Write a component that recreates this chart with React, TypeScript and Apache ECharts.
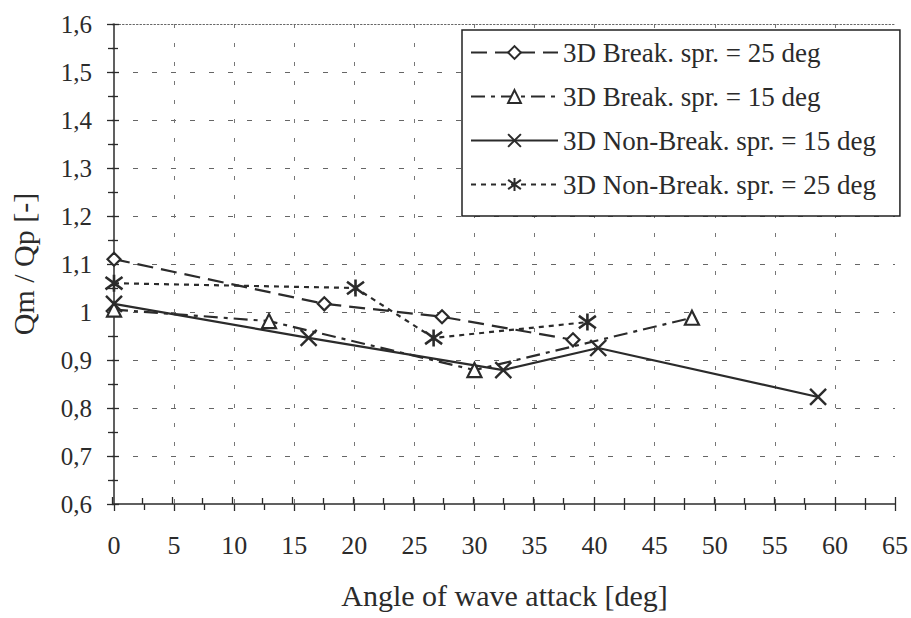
import React, { useEffect, useRef } from "react";
import * as echarts from "echarts";

const angleBreak25 = [0, 17.5, 27.3, 38.2];
const qBreak25 = [1.11, 1.017, 0.99, 0.942];
const angleBreak15 = [0, 12.9, 30.0, 48.1];
const qBreak15 = [1.005, 0.981, 0.879, 0.988];
const angleNonBreak15 = [0, 16.2, 32.4, 40.3, 58.6];
const qNonBreak15 = [1.017, 0.946, 0.879, 0.925, 0.823];
const angleNonBreak25 = [0, 20.1, 26.6, 39.4];
const qNonBreak25 = [1.06, 1.05, 0.946, 0.979];

const seriesNames = [
  "3D Break. spr. = 25 deg",
  "3D Break. spr. = 15 deg",
  "3D Non-Break. spr. = 15 deg",
  "3D Non-Break. spr. = 25 deg",
];

const xTitle = "Angle of wave attack [deg]";
const yTitle = "Qm / Qp [-]";

const FONT = "'Liberation Serif', 'Times New Roman', serif";
const INK = "#2b2b2b";

const pairs = (xs: number[], ys: number[]) => xs.map((x, i) => [x, ys[i]]);

const crossSym = "path://M0,0L10,10M0,10L10,0";
const starSym = "path://M1,1L9,9M1,9L9,1M5,-0.5L5,10.5";

export default function App() {
  const ref = useRef<HTMLDivElement>(null);
  useEffect(() => {
    if (!ref.current) return;
    const chart = echarts.init(ref.current, undefined, { renderer: "svg" });
    const gridRect = { left: 112, right: 16, top: 24, bottom: 114 };
    const fmtY = (v: number) => String(Number(v.toFixed(2))).replace(".", ",");
    const mk = (
      name: string,
      data: number[][],
      symbol: string,
      size: number,
      lineType: any,
      symFill: string,
      bw: number
    ) => ({
      type: "line",
      name,
      data,
      xAxisIndex: 0,
      yAxisIndex: 0,
      symbol,
      symbolSize: size,
      showAllSymbol: true,
      lineStyle: { color: INK, width: 2.2, type: lineType },
      itemStyle: { color: symFill, borderColor: INK, borderWidth: bw },
      emphasis: { disabled: true },
      z: 3,
    });
    chart.setOption({
      animation: false,
      backgroundColor: "#fff",
      textStyle: { fontFamily: FONT },
      grid: [
        { ...gridRect },
        { ...gridRect },
      ],
      legend: {
        orient: "vertical",
        left: 462,
        top: 30,
        padding: [9, 24, 18, 8],
        itemWidth: 87,
        itemHeight: 16,
        itemGap: 17,
        backgroundColor: "#fff",
        borderColor: "#222",
        borderWidth: 1.5,
        textStyle: { fontFamily: FONT, fontSize: 27, color: INK },
        data: seriesNames,
        z: 10,
      },
      xAxis: [
        {
          type: "value",
          gridIndex: 0,
          min: 0,
          max: 65,
          interval: 5,
          name: xTitle,
          nameLocation: "middle",
          nameGap: 76,
          nameTextStyle: { fontFamily: FONT, fontSize: 30, color: INK },
          axisLine: { show: true, lineStyle: { color: INK, width: 1.5 } },
          axisTick: { show: true, length: 7, lineStyle: { color: INK, width: 1.3 } },
          minorTick: { show: true, splitNumber: 2, length: 6, lineStyle: { color: INK, width: 1.3 } },
          axisLabel: { fontFamily: FONT, fontSize: 26, color: INK, margin: 28 },
          splitLine: {
            show: true,
            showMinLine: false,
            showMaxLine: false,
            lineStyle: { color: "#777", width: 1, type: [4, 15] },
          },
        },
        {
          type: "value",
          gridIndex: 1,
          min: 0,
          max: 65,
          interval: 5,
          position: "bottom",
          axisLine: { show: false },
          axisTick: { show: true, inside: true, length: 7, lineStyle: { color: INK, width: 1.3 } },
          minorTick: { show: true, splitNumber: 2, length: 6, lineStyle: { color: INK, width: 1.3 } },
          axisLabel: { show: false },
          splitLine: { show: false },
        },
        {
          type: "value",
          gridIndex: 1,
          min: 0,
          max: 65,
          interval: 5,
          position: "top",
          axisLine: { show: true, lineStyle: { color: "#666", width: 1, type: [1.5, 2] } },
          axisTick: { show: false },
          axisLabel: { show: false },
          splitLine: { show: false },
        },
      ],
      yAxis: [
        {
          type: "value",
          gridIndex: 0,
          min: 0.6,
          max: 1.6,
          interval: 0.1,
          name: yTitle,
          nameLocation: "middle",
          nameGap: 76,
          nameRotate: 90,
          nameTextStyle: { fontFamily: FONT, fontSize: 30, color: INK },
          axisLine: { show: true, lineStyle: { color: INK, width: 1.5 } },
          axisTick: { show: true, length: 7, lineStyle: { color: INK, width: 1.3 } },
          minorTick: { show: true, splitNumber: 2, length: 6, lineStyle: { color: INK, width: 1.3 } },
          axisLabel: { fontFamily: FONT, fontSize: 25, color: INK, margin: 22, formatter: fmtY },
          splitLine: {
            show: true,
            showMinLine: false,
            showMaxLine: false,
            lineStyle: { color: "#666", width: 1, type: [5, 14] },
          },
        },
        {
          type: "value",
          gridIndex: 1,
          min: 0.6,
          max: 1.6,
          interval: 0.1,
          axisLine: { show: false },
          axisTick: { show: true, inside: true, length: 7, lineStyle: { color: INK, width: 1.3 } },
          minorTick: { show: true, splitNumber: 2, length: 6, lineStyle: { color: INK, width: 1.3 } },
          axisLabel: { show: false },
          splitLine: { show: false },
        },
      ],
      series: [
        mk(seriesNames[0], pairs(angleBreak25, qBreak25), "diamond", 13, [16, 8], "#fff", 2.2),
        mk(seriesNames[1], pairs(angleBreak15, qBreak15), "triangle", 14, [14, 6, 4, 6], "#fff", 2.2),
        mk(seriesNames[2], pairs(angleNonBreak15, qNonBreak15), crossSym, 16, "solid", "#fff", 2.4),
        mk(seriesNames[3], pairs(angleNonBreak25, qNonBreak25), starSym, 17, [5, 5], "#fff", 2.6),
      ],
    });
    return () => chart.dispose();
  }, []);
  return <div ref={ref} style={{ width: 911, height: 618, position: "absolute", left: 0, top: 0 }} />;
}
